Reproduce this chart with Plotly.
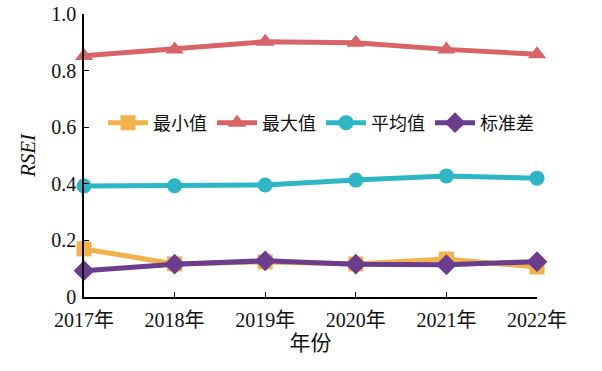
import plotly.graph_objects as go

years = ["2017年", "2018年", "2019年", "2020年", "2021年", "2022年"]
min_vals = [0.170, 0.117, 0.124, 0.117, 0.134, 0.106]
max_vals = [0.852, 0.875, 0.902, 0.898, 0.875, 0.858]
mean_vals = [0.392, 0.393, 0.396, 0.413, 0.428, 0.420]
std_vals = [0.093, 0.116, 0.128, 0.116, 0.114, 0.125]

series = [
    ("最小值", min_vals, "#F2B14C", "square", 15),
    ("最大值", max_vals, "#D8646A", "triangle-up", 16),
    ("平均值", mean_vals, "#2DB6C6", "circle", 15),
    ("标准差", std_vals, "#6A3D8F", "diamond", 16),
]

xs = list(range(len(years)))
fig = go.Figure()
for name, vals, color, sym, size in series:
    fig.add_trace(go.Scatter(
        x=xs, y=vals, name=name, mode="lines+markers",
        line=dict(color=color, width=5),
        marker=dict(symbol=sym, size=size, color=color),
        cliponaxis=False,
    ))

font_fam = "Liberation Serif, Noto Sans CJK SC, serif"
fig.update_layout(
    width=602, height=371,
    margin=dict(l=84, r=65, t=14, b=74, autoexpand=False),
    plot_bgcolor="white", paper_bgcolor="white",
    font=dict(family=font_fam, size=19, color="#111"),
    showlegend=True,
    legend=dict(orientation="h", x=0.042, y=0.615, xanchor="left", yanchor="middle",
                font=dict(size=18), bgcolor="rgba(0,0,0,0)", itemwidth=40,
                tracegroupgap=0),
    xaxis=dict(
        range=[0, 5], tickmode="array", tickvals=xs, ticktext=years,
        showline=True, linecolor="black", linewidth=1.5,
        ticks="inside", ticklen=5, tickcolor="black",
        showgrid=False, zeroline=False, automargin=False,
        ticklabelstandoff=4,
        title=dict(text="年份", font=dict(size=21), standoff=1),
        tickfont=dict(size=20),
    ),
    yaxis=dict(
        range=[0, 1.0], tickmode="array", tickvals=[0, 0.2, 0.4, 0.6, 0.8, 1.0],
        ticktext=["0", "0.2", "0.4", "0.6", "0.8", "1.0"],
        showline=True, linecolor="black", linewidth=1.5,
        ticks="inside", ticklen=5, tickcolor="black",
        showgrid=False, zeroline=False, automargin=False,
        ticklabelstandoff=2,
        title=dict(text="<i>RSEI</i>", font=dict(size=21), standoff=10),
        tickfont=dict(size=20),
    ),
)
fig.write_html("out.html", config={"displayModeBar": False},
               post_script="document.body.style.margin='0';")
